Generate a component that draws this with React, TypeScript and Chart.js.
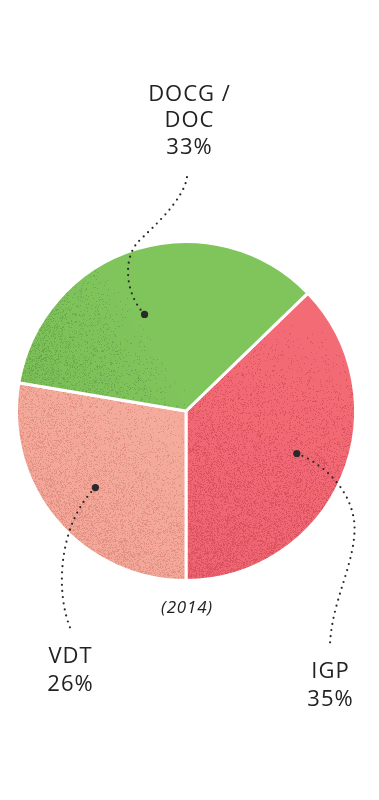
import React, { useEffect, useRef } from "react";
import { Chart, registerables } from "chart.js";

Chart.register(...registerables);

// ---- data ----
const categories = ["IGP", "VDT", "DOCG / DOC"];
const labelLines = [["IGP"], ["VDT"], ["DOCG /", "DOC"]];
const values = [35, 26, 33];
const valueLabels = ["35%", "26%", "33%"];
const yearLabel = "(2014)";

// ---- styles ----
const W = 379;
const H = 800;
const sliceStyles = [
  { base: [242, 107, 117], dark: [216, 78, 94], from: [320, 330], to: [220, 590], grain: 0.45 },
  { base: [245, 172, 156], dark: [226, 140, 128], from: [180, 390], to: [40, 560], grain: 0.45 },
  { base: [128, 196, 92], dark: [104, 166, 72], from: [130, 300], to: [20, 370], grain: 0.3 },
];

// leader-line layout (text positions and bezier controls)
const leaderLayout = [
  {
    anchor: 0.7,
    shift: -2,
    segs: [
      [[320, 462], [352, 488], [354.5, 525]],
      [[356, 562], [332, 600], [330, 644]],
    ],
    textX: 330,
    textY: [672, 700],
  },
  {
    anchor: 0.7,
    shift: 0,
    segs: [[[60, 522], [54, 590], [71, 630]]],
    textX: 70,
    textY: [657, 685],
  },
  {
    anchor: 0.62,
    shift: -6,
    segs: [
      [[126, 295], [122, 260], [138, 242]],
      [[152, 228], [184, 200], [187, 177]],
    ],
    textX: 189,
    textY: [95, 121, 148],
  },
];

function hash(x: number, y: number, s: number) {
  let h = Math.imul(x, 374761393) ^ Math.imul(y, 668265263) ^ Math.imul(s, 1442695041);
  h = Math.imul(h ^ (h >>> 13), 1274126177);
  h = h ^ (h >>> 16);
  return (h >>> 0) / 4294967296;
}

function makeTexture(ctx: CanvasRenderingContext2D, st: any, seed: number) {
  const off = document.createElement("canvas");
  off.width = W;
  off.height = H;
  const o = off.getContext("2d")!;
  const img = o.createImageData(W, H);
  const [fx, fy] = st.from;
  const [tx, ty] = st.to;
  const dx = tx - fx;
  const dy = ty - fy;
  const L2 = dx * dx + dy * dy;
  for (let y = 0; y < H; y++) {
    for (let x = 0; x < W; x++) {
      let t = ((x - fx) * dx + (y - fy) * dy) / L2;
      t = Math.max(0, Math.min(1, t));
      const r = hash(x, y, seed);
      const p = t * st.grain;
      const isDark = r < p;
      const k = isDark ? 0.9 : t * 0.2;
      const i = (y * W + x) * 4;
      img.data[i] = st.base[0] + (st.dark[0] - st.base[0]) * k;
      img.data[i + 1] = st.base[1] + (st.dark[1] - st.base[1]) * k;
      img.data[i + 2] = st.base[2] + (st.dark[2] - st.base[2]) * k;
      img.data[i + 3] = 255;
    }
  }
  o.putImageData(img, 0, 0);
  return ctx.createPattern(off, "no-repeat")!;
}

const FONT = '"Open Sans", sans-serif';

const leaderPlugin = {
  id: "leaders",
  afterDraw(chart: any) {
    const ctx: CanvasRenderingContext2D = chart.ctx;
    const meta = chart.getDatasetMeta(0);
    ctx.save();
    meta.data.forEach((arc: any, i: number) => {
      const lay = leaderLayout[i];
      const mid = (arc.startAngle + arc.endAngle) / 2 + (lay.shift * Math.PI) / 180;
      const r = arc.outerRadius * lay.anchor;
      const ax = arc.x + Math.cos(mid) * r;
      const ay = arc.y + Math.sin(mid) * r;
      // dotted line
      ctx.beginPath();
      ctx.moveTo(ax, ay);
      lay.segs.forEach((s: number[][]) => {
        ctx.bezierCurveTo(s[0][0], s[0][1], s[1][0], s[1][1], s[2][0], s[2][1]);
      });
      ctx.setLineDash([0, 6.2]);
      ctx.lineCap = "round";
      ctx.lineWidth = 2.2;
      ctx.strokeStyle = "#2a2a2a";
      ctx.stroke();
      ctx.setLineDash([]);
      // anchor dot
      ctx.beginPath();
      ctx.arc(ax, ay, 3.6, 0, Math.PI * 2);
      ctx.fillStyle = "#2a2a2a";
      ctx.fill();
      // text
      const lines = [...labelLines[i], valueLabels[i]];
      ctx.fillStyle = "#222";
      ctx.font = `400 22px ${FONT}`;
      (ctx as any).letterSpacing = "1px";
      ctx.textAlign = "center";
      ctx.textBaseline = "middle";
      lines.forEach((ln, j) => {
        ctx.fillText(ln, lay.textX + 0.5, lay.textY[j]);
      });
    });
    // year
    (ctx as any).letterSpacing = "0.8px";
    ctx.font = `italic 400 17px ${FONT}`;
    ctx.fillStyle = "#222";
    ctx.textAlign = "center";
    ctx.textBaseline = "middle";
    ctx.fillText(yearLabel, meta.data[0].x + 1, 608);
    ctx.restore();
  },
};

export default function App() {
  const ref = useRef<HTMLCanvasElement>(null);
  useEffect(() => {
    const canvas = ref.current!;
    const ctx = canvas.getContext("2d")!;
    const patterns = sliceStyles.map((s, i) => makeTexture(ctx, s, i + 1));
    const total = values.reduce((a, b) => a + b, 0);
    const chart = new Chart(canvas, {
      type: "pie",
      data: {
        labels: categories,
        datasets: [
          {
            data: values,
            backgroundColor: patterns,
            borderColor: "#ffffff",
            borderWidth: 3,
            hoverBorderWidth: 3,
          },
        ],
      },
      options: {
        responsive: false,
        animation: false,
        rotation: 180 - (360 * values[0]) / total,
        layout: { padding: { left: 14, right: 21, top: 240, bottom: 218 } },
        plugins: {
          legend: { display: false },
          tooltip: { enabled: false },
        },
        events: [],
      },
      plugins: [leaderPlugin],
    });
    return () => chart.destroy();
  }, []);
  return (
    <div style={{ position: "fixed", left: 0, top: 0, width: W, height: H, background: "#fff" }}>
      <canvas ref={ref} width={W} height={H} style={{ display: "block", width: W, height: H }} />
    </div>
  );
}
